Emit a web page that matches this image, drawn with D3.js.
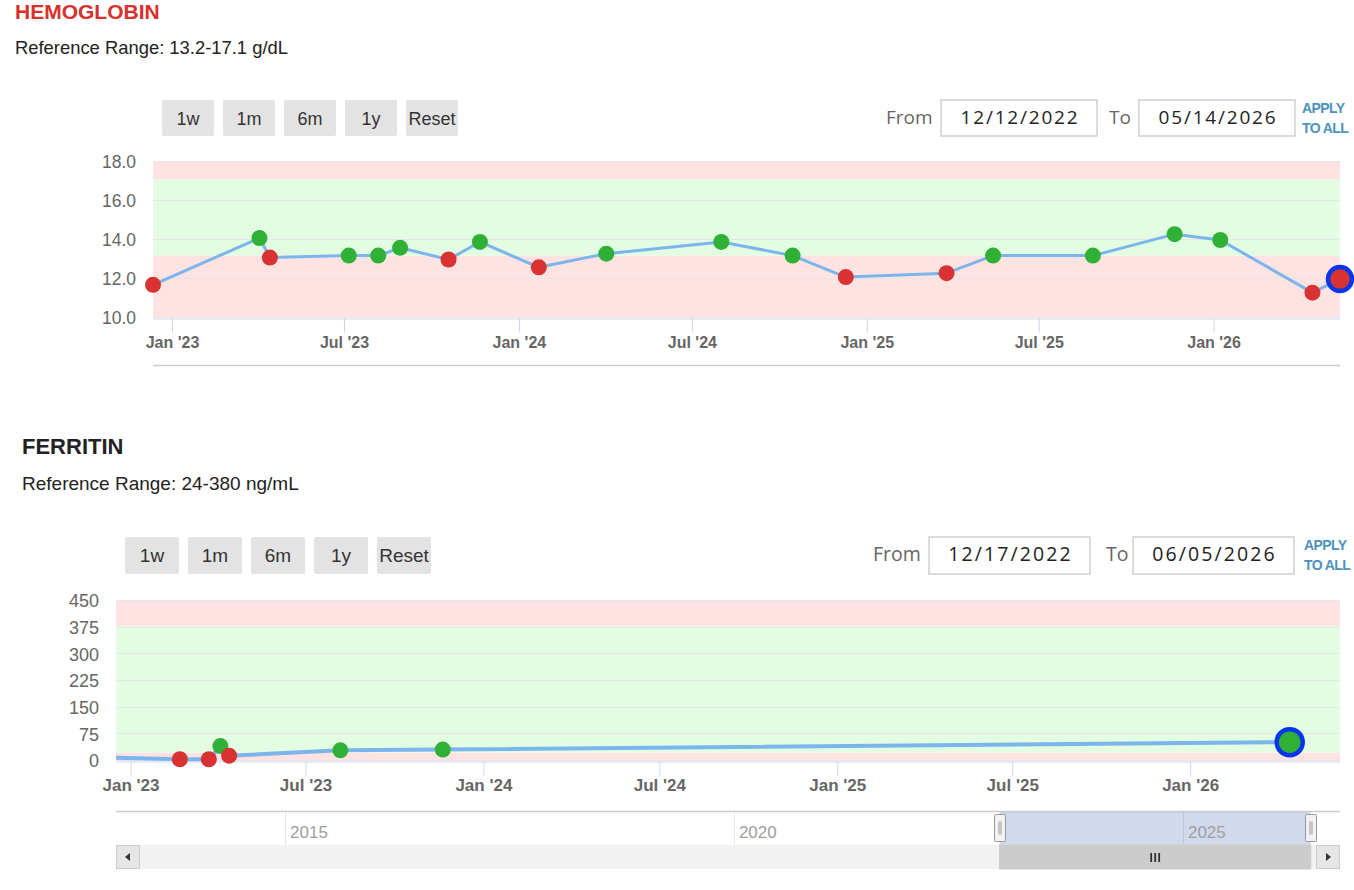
<!DOCTYPE html>
<meta charset="utf-8">
<style>
 body { margin: 0; background: #fff; }
 svg { display: block; font-family: "Liberation Sans", Arial, sans-serif; }
 .title { font-weight: bold; }
 .btn rect { fill: #e3e3e3; }
 .btn text { fill: #333; text-anchor: middle; }
 .grid line { stroke: #e6e6e6; stroke-width: 1; }
 .ylab { fill: #666; text-anchor: end; }
 .xaxis text { font-weight: bold; fill: #666; font-family: "Liberation Sans", Arial, sans-serif; }
 .xaxis path, .xaxis line { stroke: #ccd6eb; }
 .datelbl { font-family: "Open Sans", sans-serif; fill: #666; }
 .datebox rect { fill: #fff; stroke: #cfcfcf; stroke-width: 1.5; }
 .datebox text { font-family: "Open Sans", sans-serif; fill: #222; text-anchor: middle; }
 .apply { font-weight: bold; fill: #4d93bd; letter-spacing: -0.6px; }
 .navlab { fill: #a0a0a0; font-size: 17px; }
</style>
<body>
<svg width="1354" height="890"></svg>
<script src="https://d3js.org/d3.v7.min.js"></script>
<script>

 var rangeButtons = ["1w", "1m", "6m", "1y", "Reset"];

 // hemoglobin
 var hgbName = "HEMOGLOBIN", hgbUnit = "g/dL";
 var hgbRange = [13.2, 17.1];
 var hgbFrom = "2022-12-12", hgbTo = "2026-05-14";
 var hgbYTicks = [10, 12, 14, 16, 18];
 var hgbDates = ["2022-12-12", "2023-04-03", "2023-04-14", "2023-07-06", "2023-08-06",
                 "2023-08-29", "2023-10-19", "2023-11-21", "2024-01-22", "2024-04-02",
                 "2024-08-01", "2024-10-15", "2024-12-10", "2025-03-26", "2025-05-14",
                 "2025-08-27", "2025-11-21", "2026-01-08", "2026-04-15", "2026-05-14"];
 var hgbValues = [11.7, 14.1, 13.1, 13.2, 13.2, 13.6, 13.0, 13.9, 12.6, 13.3,
                  13.9, 13.2, 12.1, 12.3, 13.2, 13.2, 14.3, 14.0, 11.3, 12.0];

 // ferritin
 var ferName = "FERRITIN", ferUnit = "ng/mL";
 var ferRange = [24, 380];
 var ferFrom = "2022-12-17", ferTo = "2026-06-05";
 var ferYTicks = [0, 75, 150, 225, 300, 375, 450];
 var ferDates = ["2022-09-15", "2023-02-21", "2023-03-23", "2023-04-04", "2023-04-13",
                 "2023-08-06", "2023-11-20", "2026-04-14"];
 var ferValues = [15, 5, 5, 42, 15, 30, 32, 53];

 // navigator extent
 var navStart = "2013-02-12", navEnd = "2026-10-02";

 var svg = d3.select("svg");
 var parseDate = d3.timeParse("%Y-%m-%d"),
     inputFormat = d3.timeFormat("%m/%d/%Y"),
     tickFormat = d3.timeFormat("%b '%y");

 var RED = "#d93232", GREEN = "#2eb135", LINE = "#7cb5ec", RING = "#0436f0";
 var PINK_BAND = "#ffe2e2", GREEN_BAND = "#e3fde3";

 function panel(p) {
     var g = svg.append("g");

     g.append("text").attr("class", "title")
      .attr("x", p.x0).attr("y", p.titleY)
      .style("font-size", p.titleSize + "px").style("fill", p.titleColor)
      .text(p.name);
     g.append("text")
      .attr("x", p.x0).attr("y", p.refY)
      .style("font-size", p.refSize + "px").style("fill", "#222")
      .text("Reference Range: " + p.range[0] + "-" + p.range[1] + " " + p.unit);

     // zoom buttons
     var btn = g.selectAll(".btn").data(rangeButtons).enter().append("g")
                .attr("class", "btn")
                .attr("transform", (d, i) => `translate(${p.btnX + i * p.btnStep},${p.btnY})`);
     btn.append("rect").attr("width", p.btnW).attr("height", p.btnH).attr("rx", 2);
     btn.append("text").attr("x", p.btnW / 2).attr("y", p.btnH / 2 + 6.5)
        .style("font-size", p.btnFont + "px").text(d => d);

     // date inputs
     g.append("text").attr("class", "datelbl").attr("x", p.fromLblX).attr("y", p.dateBase)
      .style("font-size", p.dateFont + "px").text("From");
     g.append("text").attr("class", "datelbl").attr("x", p.toLblX).attr("y", p.dateBase)
      .style("font-size", p.dateFont + "px").text("To");
     [[p.box1X, p.from], [p.box2X, p.to]].forEach(function(b) {
         var bx = g.append("g").attr("class", "datebox");
         bx.append("rect").attr("x", b[0]).attr("y", p.btnY).attr("width", p.boxW).attr("height", p.btnH);
         bx.append("text").attr("x", b[0] + p.boxW / 2 + 1).attr("y", p.dateBase)
           .style("font-size", p.dateFont + "px").style("letter-spacing", p.dateSpacing + "px")
           .text(inputFormat(parseDate(b[1])));
     });
     g.append("text").attr("class", "apply").attr("x", p.applyX).attr("y", p.btnY + 13)
      .style("font-size", p.applyFont + "px").text("APPLY");
     g.append("text").attr("class", "apply").attr("x", p.applyX).attr("y", p.btnY + 33)
      .style("font-size", p.applyFont + "px").text("TO ALL");

     // scales
     var x = d3.scaleTime().domain([parseDate(p.from), parseDate(p.to)]).range([p.left, p.right]);
     var y = d3.scaleLinear().domain(d3.extent(p.yTicks)).range([p.bottom, p.top]);
     var yd = y.domain();

     var bands = [[yd[0], p.range[0], PINK_BAND], [p.range[0], p.range[1], GREEN_BAND], [p.range[1], yd[1], PINK_BAND]];
     g.append("g").selectAll("rect").data(bands).enter().append("rect")
      .attr("x", p.left).attr("width", p.right - p.left)
      .attr("y", d => y(d[1])).attr("height", d => y(d[0]) - y(d[1]))
      .style("fill", d => d[2]);

     g.append("g").attr("class", "grid").selectAll("line").data(p.yTicks).enter().append("line")
      .attr("x1", p.left).attr("x2", p.right)
      .attr("y1", d => Math.round(y(d)) - 0.5).attr("y2", d => Math.round(y(d)) - 0.5);

     g.append("g").selectAll("text").data(p.yTicks).enter().append("text")
      .attr("class", "ylab").attr("x", p.yLabX).attr("y", d => y(d) + p.yFont * 0.36)
      .style("font-size", p.yFont + "px")
      .text(d => d3.format(p.yFormat)(d));

     var ax = g.append("g").attr("class", "xaxis")
               .attr("transform", `translate(0,${p.bottom + 0.5})`)
               .call(d3.axisBottom(x).ticks(d3.timeMonth.every(6)).tickFormat(tickFormat)
                       .tickSize(p.tickLen).tickSizeOuter(0).tickPadding(p.tickPad));
     ax.selectAll("text").style("font-size", p.xFont + "px");

     // series
     var data = p.dates.map((d, i) => ({date: parseDate(d), value: p.values[i]}));
     var clipId = "clip-" + p.name;
     g.append("clipPath").attr("id", clipId).append("rect")
      .attr("x", p.left).attr("y", p.top - 30).attr("width", p.right - p.left).attr("height", p.bottom - p.top + 60);

     var line = d3.line().x(d => x(d.date)).y(d => y(d.value));
     g.append("path").datum(data)
      .attr("clip-path", `url(#${clipId})`)
      .attr("d", line)
      .style("fill", "none").style("stroke", LINE)
      .style("stroke-width", p.lineW).style("stroke-linejoin", "round");

     var inView = data.filter(d => d.date >= x.domain()[0] && d.date <= x.domain()[1]);
     var last = data[data.length - 1];
     g.append("g").selectAll("circle").data(inView).enter().append("circle")
      .attr("cx", d => x(d.date)).attr("cy", d => y(d.value))
      .attr("r", d => d === last ? p.ringR : p.dotR)
      .style("fill", d => (d.value >= p.range[0] && d.value <= p.range[1]) ? GREEN : RED)
      .style("stroke", d => d === last ? RING : "none")
      .style("stroke-width", d => d === last ? p.ringW : 0);

     return x;
 }

 panel({
     name: hgbName, unit: hgbUnit, range: hgbRange, from: hgbFrom, to: hgbTo,
     yTicks: hgbYTicks, dates: hgbDates, values: hgbValues, yFormat: ".1f",
     x0: 15, titleY: 18.5, titleSize: 21, titleColor: "#d9302e",
     refY: 53.5, refSize: 18.4,
     btnX: 162, btnY: 100, btnW: 52, btnH: 36, btnStep: 61, btnFont: 18,
     fromLblX: 886, toLblX: 1109, box1X: 941, box2X: 1139, boxW: 156,
     dateBase: 123.5, dateFont: 19, dateSpacing: 1.8,
     applyX: 1302, applyFont: 14,
     left: 153, right: 1340, top: 162, bottom: 318,
     yLabX: 136, yFont: 17.5, xFont: 16, tickLen: 14, tickPad: 4,
     lineW: 3, dotR: 8, ringR: 12, ringW: 4.5
 });

 // separator under hemoglobin chart
 svg.append("line").attr("x1", 153).attr("x2", 1340).attr("y1", 365.5).attr("y2", 365.5)
    .style("stroke", "#cccccc").style("stroke-width", 1.5);

 panel({
     name: ferName, unit: ferUnit, range: ferRange, from: ferFrom, to: ferTo,
     yTicks: ferYTicks, dates: ferDates, values: ferValues, yFormat: "d",
     x0: 22, titleY: 453.5, titleSize: 22, titleColor: "#222",
     refY: 489.5, refSize: 19,
     btnX: 125, btnY: 537, btnW: 54, btnH: 37, btnStep: 63, btnFont: 19,
     fromLblX: 873, toLblX: 1106, box1X: 929, box2X: 1133, boxW: 161,
     dateBase: 561, dateFont: 19.5, dateSpacing: 2.1,
     applyX: 1304, applyFont: 14,
     left: 116, right: 1340, top: 601, bottom: 761,
     yLabX: 99, yFont: 18, xFont: 17, tickLen: 15, tickPad: 2.5,
     lineW: 4, dotR: 8, ringR: 13, ringW: 4.5
 });

 // navigator + scrollbar for ferritin
 (function() {
     var left = 116, right = 1340, top = 812, bottom = 845, sbH = 24;
     var nx = d3.scaleTime().domain([parseDate(navStart), parseDate(navEnd)]).range([left, right]);
     var g = svg.append("g");

     g.append("line").attr("x1", left).attr("x2", right).attr("y1", top - 0.5).attr("y2", top - 0.5)
      .style("stroke", "#cccccc").style("stroke-width", 1.5);

     var years = nx.ticks(d3.timeYear.every(5));
     g.selectAll(".navgrid").data(years).enter().append("line")
      .attr("x1", d => Math.round(nx(d)) + 0.5).attr("x2", d => Math.round(nx(d)) + 0.5)
      .attr("y1", top).attr("y2", bottom)
      .style("stroke", "#e6e6e6");

     var x0 = nx(parseDate(ferFrom)), x1 = nx(parseDate(ferTo));
     g.append("rect").attr("x", x0).attr("y", top).attr("width", x1 - x0).attr("height", bottom - top)
      .style("fill", "rgba(102,133,194,0.3)");

     g.selectAll(".navlab").data(years).enter().append("text")
      .attr("class", "navlab").attr("x", d => nx(d) + 5).attr("y", bottom - 7)
      .text(d3.timeFormat("%Y"));

     // scrollbar
     g.append("rect").attr("x", left).attr("y", bottom).attr("width", right - left).attr("height", sbH)
      .style("fill", "#f2f2f2");
     g.append("rect").attr("x", x0).attr("y", bottom).attr("width", x1 - x0).attr("height", sbH)
      .style("fill", "#cccccc").style("stroke", "#cccccc");
     var cx = (x0 + x1) / 2;
     [-4, 0, 4].forEach(function(dx) {
         g.append("line").attr("x1", cx + dx).attr("x2", cx + dx)
          .attr("y1", bottom + 8).attr("y2", bottom + 17)
          .style("stroke", "#333").style("stroke-width", 1.8);
     });
     [[left, -1], [right - sbH, 1]].forEach(function(b) {
         g.append("rect").attr("x", b[0] + 0.5).attr("y", bottom + 0.5).attr("width", sbH - 1).attr("height", sbH - 1)
          .style("fill", "#e6e6e6").style("stroke", "#cccccc");
         var mx = b[0] + sbH / 2, my = bottom + sbH / 2;
         g.append("path")
          .attr("d", `M${mx - 2 * b[1]},${my - 4}L${mx + 3 * b[1]},${my}L${mx - 2 * b[1]},${my + 4}Z`)
          .style("fill", "#333");
     });

     // handles
     [x0, x1].forEach(function(hx) {
         var h = g.append("g").attr("transform", `translate(${Math.round(hx) - 5.5},${top + 2.5})`);
         h.append("rect").attr("width", 11).attr("height", 27).attr("rx", 1)
          .style("fill", "#f2f2f2").style("stroke", "#999");
         [4.5, 6.5].forEach(function(lx) {
             h.append("line").attr("x1", lx).attr("x2", lx).attr("y1", 7).attr("y2", 20)
              .style("stroke", "#999");
         });
     });
 })();

</script>
</body>
